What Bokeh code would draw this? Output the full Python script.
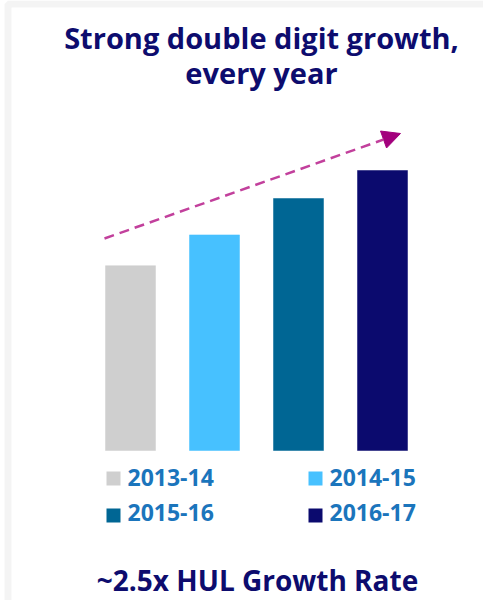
from bokeh.plotting import figure
from bokeh.models import Range1d, Label, Arrow, NormalHead, BoxAnnotation, ColumnDataSource
from bokeh.embed import file_html
from bokeh.resources import INLINE

# ---- data ----
years = ["2013-14", "2014-15", "2015-16", "2016-17"]
growth_index = [66, 77, 90, 100]
colors = ["#CFCFCF", "#47C1FF", "#006694", "#0B0A6E"]
title_lines = ["Strong double digit growth,", "every year"]
footer = "~2.5x HUL Growth Rate"

# ---- layout helpers (picture pixel -> data) ----
W, H = 483, 600
PX, X0 = 84.0, 130.0
SY, Y0 = 2.8, 450.0
TXT_SHIFT = 10  # label baseline correction


def dx(px):
    return (px - X0) / PX


def dy(py):
    return (Y0 - py) / SY


def ty(py):
    return dy(py - TXT_SHIFT)


NAVY = "#0D0C6E"
LEG_TXT = "#1B75BC"
FONT = "Open Sans"

p = figure(width=W, height=H,
           x_range=Range1d(dx(0), dx(W)), y_range=Range1d(dy(H), dy(0)),
           output_backend="svg", toolbar_location=None, min_border=0,
           x_axis_location=None, y_axis_location=None)
p.grid.visible = False
p.outline_line_color = None
p.background_fill_color = "white"
p.border_fill_color = "white"

# frame border
p.add_layout(BoxAnnotation(left=dx(7.5), right=dx(700), top=dy(3.5), bottom=dy(603),
                           fill_color=None, fill_alpha=0, line_color="#D9D9D9", line_width=7))

# bars
src = ColumnDataSource(dict(x=list(range(len(years))), top=growth_index, color=colors, year=years))
p.vbar(x="x", top="top", bottom=0, width=50 / PX, fill_color="color", line_color="color",
       line_width=0.5, source=src)

# trend arrow
p.add_layout(Arrow(end=NormalHead(size=18, fill_color="#A3007D", line_color="#A3007D", line_width=1),
                   x_start=dx(104), y_start=dy(238), x_end=dx(400), y_end=dy(133),
                   line_color="#C2409C", line_width=2.5, line_dash="10 6"))

# title
for line, base in zip(title_lines, [47, 82]):
    p.add_layout(Label(x=dx(261), y=ty(base), text=line, text_align="center",
                       text_baseline="alphabetic", text_font=FONT, text_font_style="bold",
                       text_font_size="29px", text_color=NAVY))

# legend (2 x 2)
sq_left = [106, 308]
sq_top = [471, 508]
txt_left = [127, 329]
txt_base = [487, 522]
lx, ly = [], []
for i, yr in enumerate(years):
    col, row = i % 2, i // 2
    lx.append(dx(sq_left[col] + 7))
    ly.append(dy(sq_top[row] + 7))
    p.add_layout(Label(x=dx(txt_left[col]), y=ty(txt_base[row]), text=yr, text_align="left",
                       text_baseline="alphabetic", text_font=FONT, text_font_style="bold",
                       text_font_size="23px", text_color=LEG_TXT))
p.rect(x=lx, y=ly, width=14, height=14, width_units="screen", height_units="screen",
       fill_color=colors, line_color=None)

# footer
p.add_layout(Label(x=dx(257), y=ty(589), text=footer, text_align="center",
                   text_baseline="alphabetic", text_font=FONT, text_font_style="bold",
                   text_font_size="28px", text_color=NAVY))

open("out.html", "w").write(file_html(p, INLINE))
